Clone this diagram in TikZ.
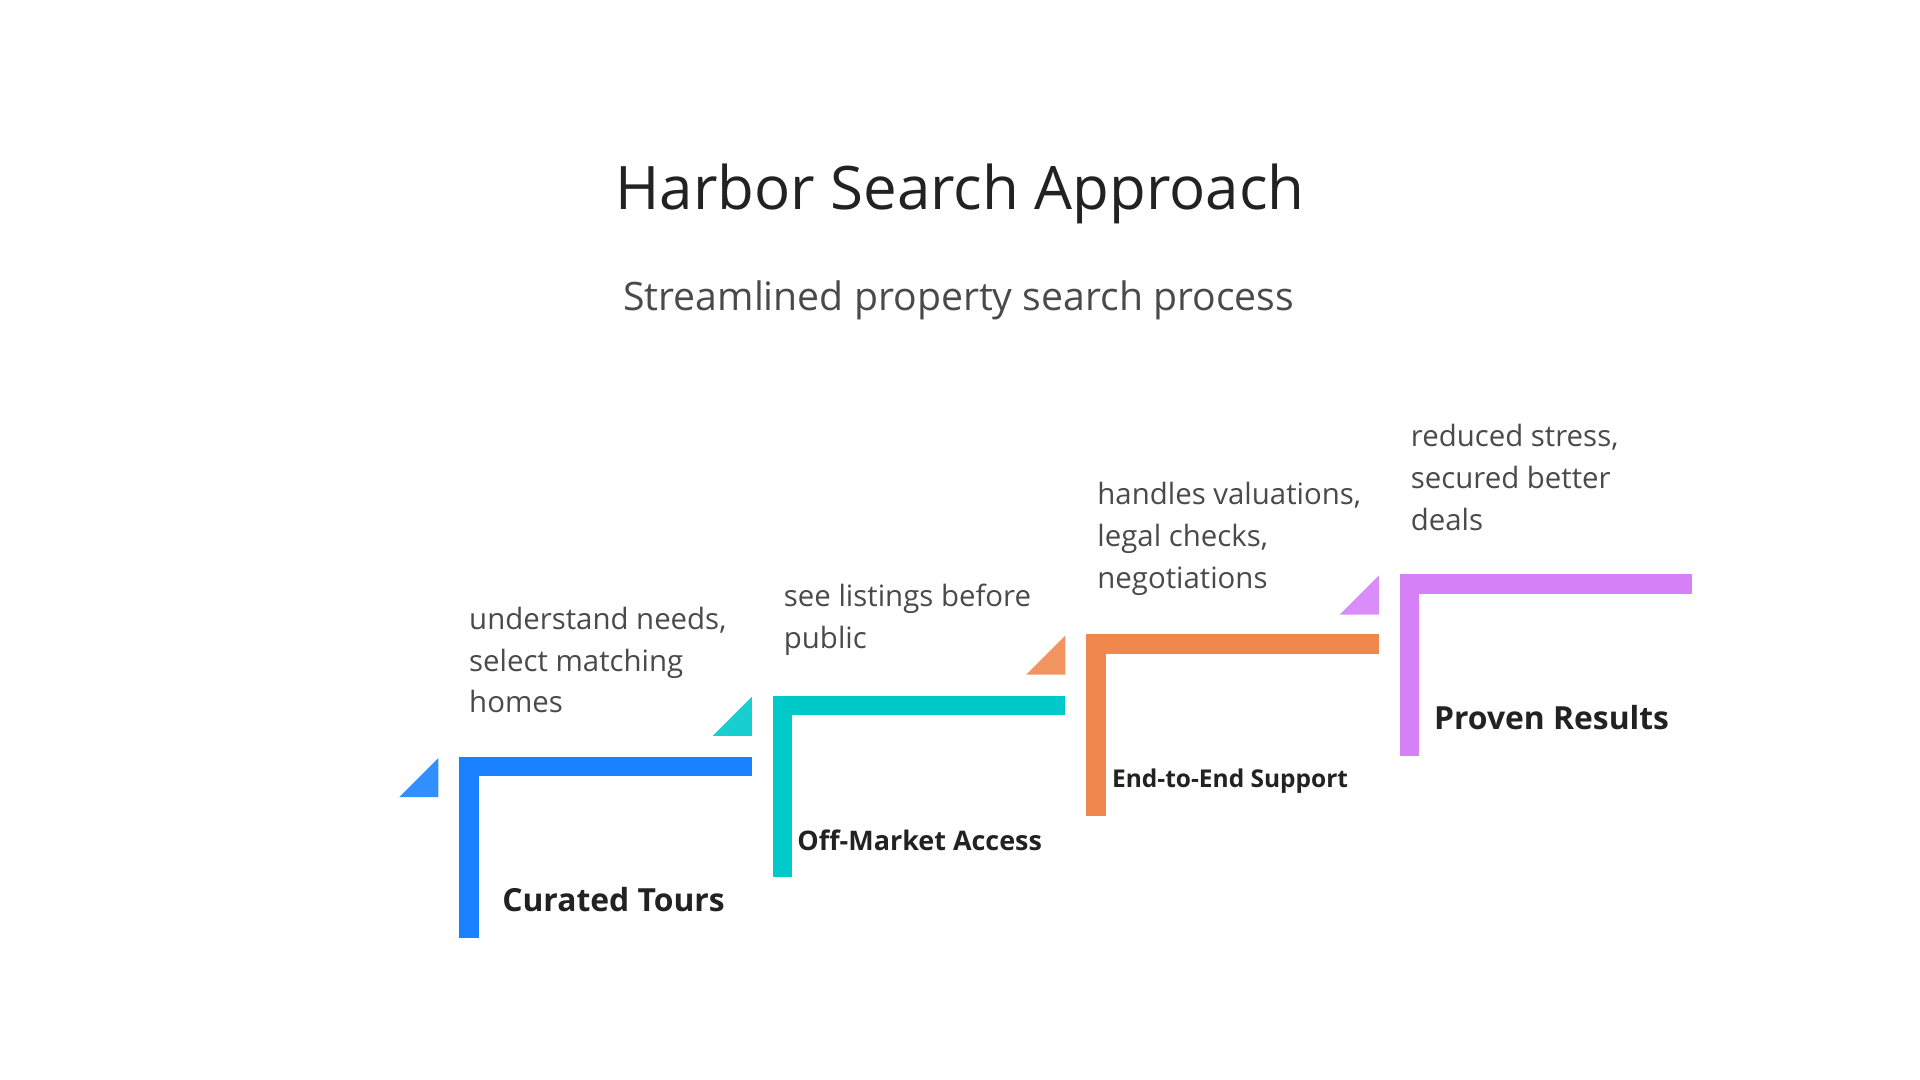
\documentclass[tikz,border=0pt]{standalone}
\usepackage{fontspec}
\setmainfont{Open Sans}
\definecolor{cblue}{HTML}{1A82FF}
\definecolor{cteal}{HTML}{00C9C9}
\definecolor{corange}{HTML}{F0884E}
\definecolor{cpurple}{HTML}{D580F7}
\definecolor{ctext}{HTML}{4A4A4A}
\definecolor{ctitle}{HTML}{222222}
\begin{document}
\begin{tikzpicture}[x=1pt,y=-1pt,
  desc/.style={anchor=west,text=ctext,font=\fontsize{24}{34}\selectfont,align=left,inner sep=0pt},
  lbl/.style={anchor=west,text=ctitle,inner sep=0pt}]
\useasboundingbox[fill=white] (0,0) rectangle (1568,882);
\node (title) at (784,158) {\fontsize{49}{54}\selectfont\color{ctitle}Harbor Search Approach};
\node (sub) at (783,245) {\fontsize{32}{36}\selectfont\color{ctext}Streamlined property search process};
\foreach \i/\c/\x/\y in {1/cblue/375/618,2/cteal/631/568,3/corange/887/518,4/cpurple/1143/469}{
  \fill[\c] (\x,\y) rectangle ++(16,148);
  \fill[\c] (\x,\y) rectangle ++(239,16);
  \fill[\c!90!white] (\x-49,\y+33) -- (\x-17,\y+33) -- (\x-17,\y+1) -- cycle;
}
\node[lbl,font=\bfseries\fontsize{26}{30}\selectfont] (l1) at (410,735) {Curated Tours};
\node[lbl,font=\bfseries\fontsize{22}{26}\selectfont] (l2) at (651,686) {Off-Market Access};
\node[lbl,font=\bfseries\fontsize{20}{24}\selectfont] (l3) at (908,638) {End-to-End Support};
\node[lbl,font=\bfseries\fontsize{26}{30}\selectfont] (l4) at (1171,586) {Proven Results};
\node[desc] (d1) at (383,539) {understand needs,\\select matching\\homes};
\node[desc] (d2) at (640,506) {see listings before\\public};
\node[desc] (d3) at (896,440) {handles valuations,\\legal checks,\\negotiations};
\node[desc] (d4) at (1152,390) {reduced stress,\\secured better\\deals};
\end{tikzpicture}
\end{document}
